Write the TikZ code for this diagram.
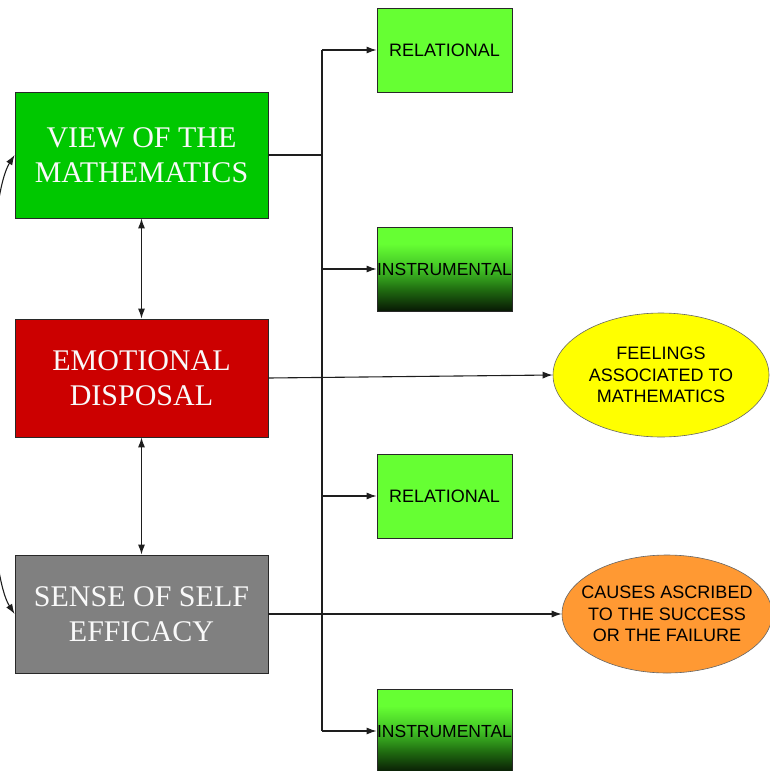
\documentclass[tikz,border=0pt]{standalone}
\usepackage{fontspec}
\setmainfont{Liberation Serif}
\newfontfamily\sansf{Liberation Sans}
\usetikzlibrary{arrows.meta,shapes.geometric}
\definecolor{viewgreen}{RGB}{0,200,0}
\definecolor{emored}{RGB}{204,0,0}
\definecolor{effgray}{RGB}{128,128,128}
\definecolor{relgreen}{RGB}{102,255,51}
\definecolor{instmid}{RGB}{64,192,37}
\definecolor{instlow}{RGB}{31,106,16}
\definecolor{instbot}{RGB}{8,24,4}
\definecolor{feelyellow}{RGB}{255,255,0}
\definecolor{causeorange}{RGB}{255,153,51}
\definecolor{edgegray}{RGB}{40,40,40}
\definecolor{linegray}{RGB}{30,30,30}
\pgfdeclareverticalshading{instshade}{100bp}{color(0bp)=(instbot); color(25bp)=(instbot); color(37.5bp)=(instlow); color(50bp)=(instmid); color(65bp)=(relgreen); color(75bp)=(relgreen); color(100bp)=(relgreen)}
\begin{document}
\begin{tikzpicture}[x=1pt,y=-1pt,
  mainbox/.style={draw=edgegray,line width=0.8pt,minimum width=253pt,inner sep=0pt,
    text=white!95!gray,align=center,font=\fontsize{30}{35}\selectfont},
  smallbox/.style={draw=edgegray,line width=0.8pt,minimum width=135pt,minimum height=84pt,
    inner sep=0pt,text=black,font=\sansf\fontsize{18}{20}\selectfont},
  instbox/.style={smallbox,shading=instshade,font=\sansf\fontsize{17.5}{20}\selectfont},
  oval/.style={ellipse,draw=gray!80!black,line width=0.6pt,inner xsep=-30pt,inner ysep=-20pt,align=center,
    text=black,font=\sansf\fontsize{18}{21.5}\selectfont},
  conn/.style={draw=linegray,line width=1.1pt},
  tip/.style={-{Latex[length=10pt,width=7pt]}},
  twotip/.style={{Latex[length=10pt,width=7pt]}-{Latex[length=10pt,width=7pt]}}
]
\path[use as bounding box] (0,0) rectangle (770,771);

\node[mainbox,fill=viewgreen,minimum height=126pt] (view) at (141.5,155) {VIEW OF THE\\MATHEMATICS};
\node[mainbox,fill=emored,minimum height=118pt] (emo) at (141.5,378) {EMOTIONAL\\DISPOSAL};
\node[mainbox,fill=effgray,minimum height=118pt] (sense) at (141.5,614) {SENSE OF SELF\\EFFICACY};

\node[smallbox,fill=relgreen] (rel1) at (444.5,50) {RELATIONAL};
\node[instbox] (inst1) at (444.5,269) {\makebox[0pt]{INSTRUMENTAL}};
\node[smallbox,fill=relgreen] (rel2) at (444.5,496) {RELATIONAL};
\node[instbox] (inst2) at (444.5,731) {\makebox[0pt]{INSTRUMENTAL}};

\node[oval,fill=feelyellow,minimum width=216pt,minimum height=124pt] (feel) at (661,375) {FEELINGS\\ASSOCIATED TO\\MATHEMATICS};
\node[oval,fill=causeorange,minimum width=210pt,minimum height=118pt] (cause) at (667,614) {CAUSES ASCRIBED\\TO THE SUCCESS\\OR THE FAILURE};

\coordinate (ttop) at (322,50);
\coordinate (tbot) at (322,731);

\draw[conn] (ttop) -- (tbot);
\draw[conn] (view.east) -- (view.east -| ttop);
\draw[conn,tip] (ttop) -- (rel1.west);
\draw[conn,tip] (inst1.west -| ttop) -- (inst1.west);
\draw[conn,tip] (rel2.west -| ttop) -- (rel2.west);
\draw[conn,tip] (tbot) -- (inst2.west);
\draw[conn,tip] (emo.east) -- (feel.west);
\draw[conn,tip] (sense.east) -- (cause.west);

\draw[conn,twotip] (view.south) -- (emo.north);
\draw[conn,twotip] (emo.south) -- (sense.north);
\draw[conn,twotip] (view.west) .. controls (-20,210) and (-20,560) .. (sense.west);
\end{tikzpicture}
\end{document}
